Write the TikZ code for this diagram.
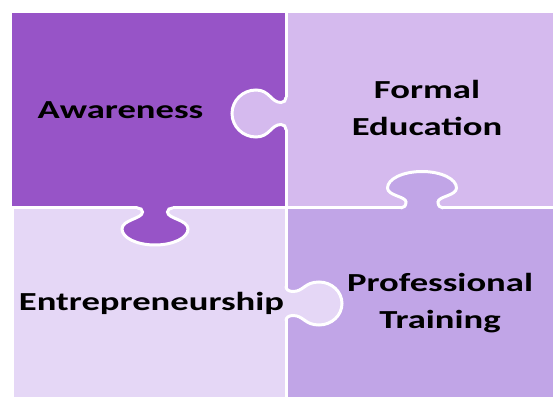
\documentclass[tikz,border=0pt]{standalone}
\usepackage{fontspec}
\usepackage{graphicx}
\usepackage{tikz}
\usepackage{xcolor}
\newfontfamily\puzzlefont{Carlito}
\definecolor{tlfill}{RGB}{151,84,199}
\definecolor{trfill}{RGB}{213,186,238}
\definecolor{blfill}{RGB}{229,215,246}
\definecolor{brfill}{RGB}{193,165,231}
\newcommand{\wide}[1]{\scalebox{1.41}[1]{#1}}
\newcommand{\knobcurve}[5]{({#1+5},0) .. controls ({#1+2},0) and (#1,{0.4*#2}) .. (#1,#2)
  .. controls (#1,{#2+0.4*(#3-#2)}) and (#4,{#3-0.55*(#3-#2)}) .. (#4,#3)
  .. controls (#4,{#3+0.552*#5}) and ({0.552*#4},{#3+#5}) .. (0,{#3+#5})
  .. controls ({-0.552*#4},{#3+#5}) and (-#4,{#3+0.552*#5}) .. (-#4,#3)
  .. controls (-#4,{#3-0.55*(#3-#2)}) and (-#1,{#2+0.4*(#3-#2)}) .. (-#1,#2)
  .. controls (-#1,{0.4*#2}) and ({-#1-2},0) .. ({-#1-5},0)}
\newcommand{\knob}[7]{%
  \begin{scope}[#1]
    \fill[#2] ({#3+5},-4) -- \knobcurve{#3}{#4}{#5}{#6}{#7} -- ({-#3-5},-4) -- cycle;
    \draw[seam] \knobcurve{#3}{#4}{#5}{#6}{#7};
  \end{scope}}

\begin{document}
\begin{tikzpicture}[x=1pt, y=1pt,
    seam/.style={draw=white, line width=3pt, line cap=round},
    piece/.style={fill=#1, seam},
    lbl/.style={font=\puzzlefont\bfseries\fontsize{26}{37}\selectfont, align=center, inner sep=0pt, text=black}]
  \useasboundingbox (0,0) rectangle (553,396);
  \path[piece=tlfill] (10.5,188) rectangle (286,384.5);
  \path[piece=trfill] (286,188) rectangle (556,384.5);
  \path[piece=blfill] (12.5,-3) rectangle (286,188);
  \path[piece=brfill] (286,-3) rectangle (556,188);
  \knob{shift={(286,282.5)}, rotate=90}{trfill}{11}{5}{30}{23.5}{24}
  \knob{shift={(422,188)}}{brfill}{16}{6}{20}{34.5}{16.5}
  \knob{shift={(155,188)}, rotate=180}{tlfill}{12.5}{4}{21}{33}{16}
  \knob{shift={(286,92.5)}, rotate=-90}{blfill}{12}{7}{33}{21.5}{23}
  \node[lbl] (aware) at (120.5,286) {\wide{Awareness}};
  \node[lbl] (formal) at (427,288) {\wide{Formal}\\\wide{Education}};
  \node[lbl] (entre) at (151.5,92.5) {\wide{Entrepreneurship}};
  \node[lbl] (prof) at (440,92.5) {\wide{Professional}\\\wide{Training}};
\end{tikzpicture}
\end{document}
